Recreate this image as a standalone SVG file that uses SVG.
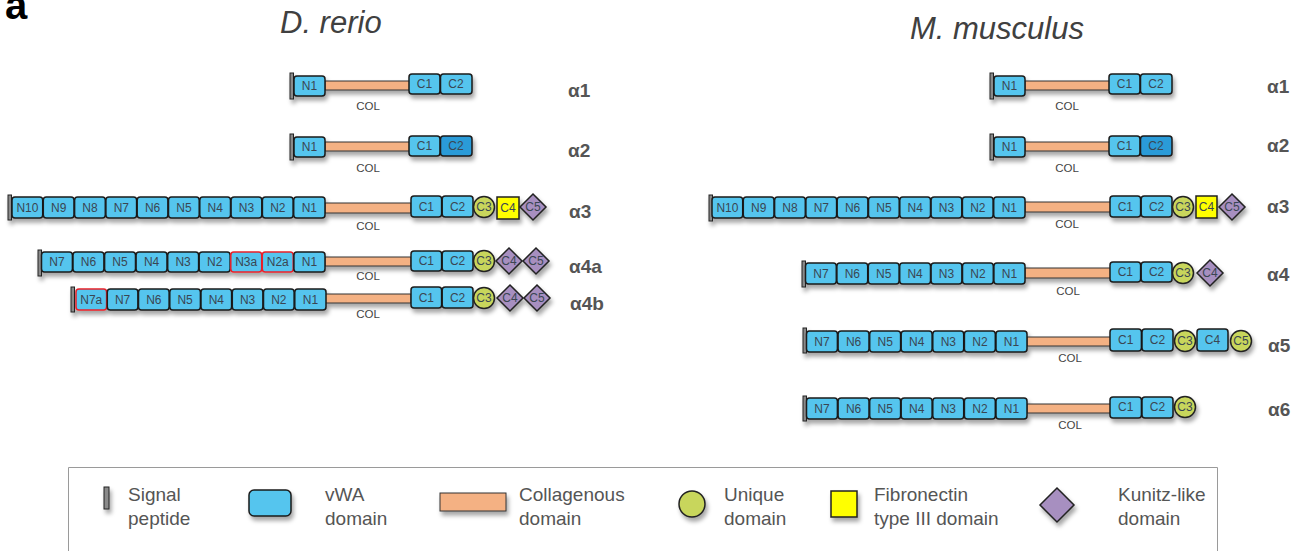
<svg xmlns="http://www.w3.org/2000/svg" width="1302" height="551" viewBox="0 0 1302 551">
<defs>
<filter id="sh" x="-10%" y="-30%" width="120%" height="180%">
<feDropShadow dx="2" dy="4" stdDeviation="2.2" flood-color="#000" flood-opacity="0.35"/>
</filter>
</defs>
<style>
.v{fill:#55C5EE;stroke:#1a1a1a;stroke-width:1.5}
.vd{fill:#2A9BD8}
.vr{stroke:#E8202A}
.col{fill:#F4B183;stroke:#333;stroke-width:1}
.sp{fill:#8a8a8a;stroke:#222;stroke-width:1}
.u{fill:#C8D65C;stroke:#222;stroke-width:1.5}
.fn{fill:#FFFF00;stroke:#222;stroke-width:1.5}
.k{fill:#A78FC0;stroke:#222;stroke-width:1.5}
text{font-family:"Liberation Sans",Arial,sans-serif}
.t{font-size:12px;fill:#3a4652;text-anchor:middle}
.cl{font-size:11.5px;fill:#444;text-anchor:middle}
.al{font-size:19px;font-weight:bold;fill:#555}
.lg{font-size:19px;fill:#555}
.ti{font-size:31px;font-style:italic;fill:#404040}
.row{filter:url(#sh)}
</style>
<rect width="1302" height="551" fill="#fff"/>
<text x="5" y="19" style="font-size:40px;font-weight:bold;fill:#000">a</text>
<text class="ti" x="280" y="33">D. rerio</text>
<text class="ti" x="910" y="39">M. musculus</text>

<!-- D. rerio alpha1 -->
<g id="dr-a1">
<g class="row">
<rect class="sp" x="290" y="73" width="3.5" height="26"/>
<rect class="col" x="325" y="81" width="85" height="9"/>
<rect class="v" x="294" y="76" width="31" height="20" rx="3"/>
<rect class="v" x="409" y="74" width="31" height="20" rx="3"/>
<rect class="v" x="440.5" y="74" width="31.5" height="20" rx="3"/>
</g>
<text class="t" x="309.5" y="90">N1</text><text class="t" x="424.5" y="88">C1</text><text class="t" x="456" y="88">C2</text>
<text class="cl" x="368" y="110">COL</text>
<text class="al" x="568" y="97">α1</text>
</g>

<!-- D. rerio alpha2 -->
<g id="dr-a2">
<g class="row">
<rect class="sp" x="290" y="134" width="3.5" height="26"/>
<rect class="col" x="325" y="142" width="85" height="9"/>
<rect class="v" x="294" y="137" width="31" height="20" rx="3"/>
<rect class="v" x="409" y="136" width="31" height="20" rx="3"/>
<rect class="v vd" x="440.5" y="136" width="31.5" height="20" rx="3"/>
</g>
<text class="t" x="309.5" y="151">N1</text><text class="t" x="424.5" y="150">C1</text><text class="t" x="456" y="150">C2</text>
<text class="cl" x="368" y="172">COL</text>
<text class="al" x="568" y="157">α2</text>
</g>

<!-- D. rerio alpha3 -->
<g id="dr-a3">
<g class="row">
<rect class="sp" x="8" y="195" width="3.5" height="25"/>
<rect class="col" x="325" y="203" width="86" height="10"/>
<rect class="v" x="12" y="197" width="30.7" height="21" rx="3"/>
<rect class="v" x="43.3" y="197" width="30.7" height="21" rx="3"/>
<rect class="v" x="74.6" y="197" width="30.7" height="21" rx="3"/>
<rect class="v" x="105.9" y="197" width="30.7" height="21" rx="3"/>
<rect class="v" x="137.2" y="197" width="30.7" height="21" rx="3"/>
<rect class="v" x="168.5" y="197" width="30.7" height="21" rx="3"/>
<rect class="v" x="199.8" y="197" width="30.7" height="21" rx="3"/>
<rect class="v" x="231.1" y="197" width="30.7" height="21" rx="3"/>
<rect class="v" x="262.4" y="197" width="30.7" height="21" rx="3"/>
<rect class="v" x="293.7" y="197" width="31.3" height="21" rx="3"/>
<rect class="v" x="411" y="196" width="30.6" height="21" rx="3"/>
<rect class="v" x="442.2" y="196" width="30.8" height="21" rx="3"/>
<circle class="u" cx="484" cy="207" r="10.5"/>
<rect class="fn" x="497" y="197" width="22" height="22"/>
<path class="k" d="M533 194 L546 207 L533 220 L520 207 Z"/>
</g>
<text class="t" x="27.4" y="212">N10</text><text class="t" x="58.7" y="212">N9</text><text class="t" x="90" y="212">N8</text><text class="t" x="121.3" y="212">N7</text><text class="t" x="152.6" y="212">N6</text><text class="t" x="183.9" y="212">N5</text><text class="t" x="215.2" y="212">N4</text><text class="t" x="246.5" y="212">N3</text><text class="t" x="277.8" y="212">N2</text><text class="t" x="309.3" y="212">N1</text>
<text class="t" x="426.3" y="211">C1</text><text class="t" x="457.6" y="211">C2</text><text class="t" x="484" y="211">C3</text><text class="t" x="508" y="212">C4</text><text class="t" x="533" y="211">C5</text>
<text class="cl" x="368" y="230">COL</text>
<text class="al" x="569" y="218">α3</text>
</g>

<!-- D. rerio alpha4a -->
<g id="dr-a4a">
<g class="row">
<rect class="sp" x="38" y="250" width="3.5" height="26"/>
<rect class="col" x="325" y="257" width="86" height="9"/>
<rect class="v" x="41.5" y="252" width="30.9" height="20" rx="3"/>
<rect class="v" x="73" y="252" width="30.9" height="20" rx="3"/>
<rect class="v" x="104.6" y="252" width="30.9" height="20" rx="3"/>
<rect class="v" x="136.1" y="252" width="30.9" height="20" rx="3"/>
<rect class="v" x="167.7" y="252" width="30.9" height="20" rx="3"/>
<rect class="v" x="199.2" y="252" width="30.9" height="20" rx="3"/>
<rect class="v vr" x="230.8" y="252" width="30.9" height="20" rx="3"/>
<rect class="v vr" x="262.3" y="252" width="30.9" height="20" rx="3"/>
<rect class="v" x="293.9" y="252" width="31.1" height="20" rx="3"/>
<rect class="v" x="411" y="251" width="30.6" height="20" rx="3"/>
<rect class="v" x="442.2" y="251" width="30.8" height="20" rx="3"/>
<circle class="u" cx="484" cy="261" r="10.5"/>
<path class="k" d="M509 248 L522 261 L509 274 L496 261 Z"/>
<path class="k" d="M536 248 L549 261 L536 274 L523 261 Z"/>
</g>
<text class="t" x="57" y="266">N7</text><text class="t" x="88.5" y="266">N6</text><text class="t" x="120" y="266">N5</text><text class="t" x="151.6" y="266">N4</text><text class="t" x="183.1" y="266">N3</text><text class="t" x="214.7" y="266">N2</text><text class="t" x="246.2" y="266">N3a</text><text class="t" x="277.8" y="266">N2a</text><text class="t" x="309.4" y="266">N1</text>
<text class="t" x="426.3" y="265">C1</text><text class="t" x="457.6" y="265">C2</text><text class="t" x="484" y="265">C3</text><text class="t" x="509" y="265">C4</text><text class="t" x="536" y="265">C5</text>
<text class="cl" x="368" y="280">COL</text>
<text class="al" x="569" y="273">α4a</text>
</g>

<!-- D. rerio alpha4b -->
<g id="dr-a4b">
<g class="row">
<rect class="sp" x="71" y="287" width="3.5" height="25"/>
<rect class="col" x="325" y="294" width="86" height="9"/>
<rect class="v vr" x="76" y="289" width="30.6" height="21" rx="3"/>
<rect class="v" x="107.3" y="289" width="30.6" height="21" rx="3"/>
<rect class="v" x="138.5" y="289" width="30.6" height="21" rx="3"/>
<rect class="v" x="169.8" y="289" width="30.6" height="21" rx="3"/>
<rect class="v" x="201" y="289" width="30.6" height="21" rx="3"/>
<rect class="v" x="232.3" y="289" width="30.6" height="21" rx="3"/>
<rect class="v" x="263.5" y="289" width="30.6" height="21" rx="3"/>
<rect class="v" x="294.8" y="289" width="31.2" height="21" rx="3"/>
<rect class="v" x="411" y="287" width="30.6" height="21" rx="3"/>
<rect class="v" x="442.2" y="287" width="30.8" height="21" rx="3"/>
<circle class="u" cx="484" cy="298" r="10.5"/>
<path class="k" d="M510 285 L523 298 L510 311 L497 298 Z"/>
<path class="k" d="M537 285 L550 298 L537 311 L524 298 Z"/>
</g>
<text class="t" x="91.3" y="304">N7a</text><text class="t" x="122.6" y="304">N7</text><text class="t" x="153.8" y="304">N6</text><text class="t" x="185.1" y="304">N5</text><text class="t" x="216.3" y="304">N4</text><text class="t" x="247.6" y="304">N3</text><text class="t" x="278.8" y="304">N2</text><text class="t" x="310.4" y="304">N1</text>
<text class="t" x="426.3" y="302">C1</text><text class="t" x="457.6" y="302">C2</text><text class="t" x="484" y="302">C3</text><text class="t" x="510" y="302">C4</text><text class="t" x="537" y="302">C5</text>
<text class="cl" x="368" y="318">COL</text>
<text class="al" x="570" y="310">α4b</text>
</g>

<!-- M. musculus alpha1 -->
<g id="mm-a1">
<g class="row">
<rect class="sp" x="990" y="73" width="3.5" height="26"/>
<rect class="col" x="1025" y="81" width="85" height="9"/>
<rect class="v" x="994" y="76" width="31" height="20" rx="3"/>
<rect class="v" x="1109" y="74" width="31" height="20" rx="3"/>
<rect class="v" x="1140.5" y="74" width="31.5" height="20" rx="3"/>
</g>
<text class="t" x="1009.5" y="90">N1</text><text class="t" x="1124.5" y="88">C1</text><text class="t" x="1156" y="88">C2</text>
<text class="cl" x="1067" y="110">COL</text>
<text class="al" x="1267" y="93">α1</text>
</g>

<!-- M. musculus alpha2 -->
<g id="mm-a2">
<g class="row">
<rect class="sp" x="990" y="134" width="3.5" height="26"/>
<rect class="col" x="1025" y="142" width="85" height="9"/>
<rect class="v" x="994" y="137" width="31" height="20" rx="3"/>
<rect class="v" x="1109" y="136" width="31" height="20" rx="3"/>
<rect class="v vd" x="1140.5" y="136" width="31.5" height="20" rx="3"/>
</g>
<text class="t" x="1009.5" y="151">N1</text><text class="t" x="1124.5" y="150">C1</text><text class="t" x="1156" y="150">C2</text>
<text class="cl" x="1067" y="172">COL</text>
<text class="al" x="1267" y="152">α2</text>
</g>

<!-- M. musculus alpha3 -->
<g id="mm-a3">
<g class="row">
<rect class="sp" x="709" y="195" width="3.5" height="26"/>
<rect class="col" x="1025" y="202" width="86" height="10"/>
<rect class="v" x="712" y="197" width="30.7" height="21" rx="3"/>
<rect class="v" x="743.3" y="197" width="30.7" height="21" rx="3"/>
<rect class="v" x="774.6" y="197" width="30.7" height="21" rx="3"/>
<rect class="v" x="805.9" y="197" width="30.7" height="21" rx="3"/>
<rect class="v" x="837.2" y="197" width="30.7" height="21" rx="3"/>
<rect class="v" x="868.5" y="197" width="30.7" height="21" rx="3"/>
<rect class="v" x="899.8" y="197" width="30.7" height="21" rx="3"/>
<rect class="v" x="931.1" y="197" width="30.7" height="21" rx="3"/>
<rect class="v" x="962.4" y="197" width="30.7" height="21" rx="3"/>
<rect class="v" x="993.7" y="197" width="31.3" height="21" rx="3"/>
<rect class="v" x="1110" y="196" width="30.6" height="21" rx="3"/>
<rect class="v" x="1141.2" y="196" width="30.8" height="21" rx="3"/>
<circle class="u" cx="1183" cy="207" r="10.5"/>
<rect class="fn" x="1196" y="196" width="21" height="22"/>
<path class="k" d="M1232 194 L1245 207 L1232 220 L1219 207 Z"/>
</g>
<text class="t" x="727.4" y="212">N10</text><text class="t" x="758.7" y="212">N9</text><text class="t" x="790" y="212">N8</text><text class="t" x="821.3" y="212">N7</text><text class="t" x="852.6" y="212">N6</text><text class="t" x="883.9" y="212">N5</text><text class="t" x="915.2" y="212">N4</text><text class="t" x="946.5" y="212">N3</text><text class="t" x="977.8" y="212">N2</text><text class="t" x="1009.3" y="212">N1</text>
<text class="t" x="1125.3" y="211">C1</text><text class="t" x="1156.6" y="211">C2</text><text class="t" x="1183" y="211">C3</text><text class="t" x="1206.5" y="211">C4</text><text class="t" x="1232" y="211">C5</text>
<text class="cl" x="1067" y="228">COL</text>
<text class="al" x="1267" y="213">α3</text>
</g>

<!-- M. musculus alpha4 -->
<g id="mm-a4">
<g class="row">
<rect class="sp" x="802" y="261" width="3.5" height="26"/>
<rect class="col" x="1025" y="268" width="86" height="10"/>
<rect class="v" x="805.5" y="263" width="30.8" height="21" rx="3"/>
<rect class="v" x="836.9" y="263" width="30.8" height="21" rx="3"/>
<rect class="v" x="868.3" y="263" width="30.8" height="21" rx="3"/>
<rect class="v" x="899.7" y="263" width="30.8" height="21" rx="3"/>
<rect class="v" x="931.1" y="263" width="30.8" height="21" rx="3"/>
<rect class="v" x="962.5" y="263" width="30.8" height="21" rx="3"/>
<rect class="v" x="993.9" y="263" width="31.1" height="21" rx="3"/>
<rect class="v" x="1110" y="262" width="30.6" height="20" rx="3"/>
<rect class="v" x="1141.2" y="262" width="30.8" height="20" rx="3"/>
<circle class="u" cx="1183" cy="273" r="10.5"/>
<path class="k" d="M1210 260 L1223 273 L1210 286 L1197 273 Z"/>
</g>
<text class="t" x="821" y="278">N7</text><text class="t" x="852.3" y="278">N6</text><text class="t" x="883.7" y="278">N5</text><text class="t" x="915.1" y="278">N4</text><text class="t" x="946.5" y="278">N3</text><text class="t" x="977.9" y="278">N2</text><text class="t" x="1009.4" y="278">N1</text>
<text class="t" x="1125.3" y="276">C1</text><text class="t" x="1156.6" y="276">C2</text><text class="t" x="1183" y="277">C3</text><text class="t" x="1210" y="277">C4</text>
<text class="cl" x="1068" y="295">COL</text>
<text class="al" x="1267" y="281">α4</text>
</g>

<!-- M. musculus alpha5 -->
<g id="mm-a5">
<g class="row">
<rect class="sp" x="803" y="328" width="3.5" height="25"/>
<rect class="col" x="1027" y="337" width="84" height="9"/>
<rect class="v" x="806.5" y="331" width="30.9" height="21" rx="3"/>
<rect class="v" x="838.1" y="331" width="30.9" height="21" rx="3"/>
<rect class="v" x="869.7" y="331" width="30.9" height="21" rx="3"/>
<rect class="v" x="901.2" y="331" width="30.9" height="21" rx="3"/>
<rect class="v" x="932.8" y="331" width="30.9" height="21" rx="3"/>
<rect class="v" x="964.4" y="331" width="30.9" height="21" rx="3"/>
<rect class="v" x="996" y="331" width="31" height="21" rx="3"/>
<rect class="v" x="1110" y="329" width="31.4" height="22" rx="3"/>
<rect class="v" x="1142" y="329" width="31" height="22" rx="3"/>
<circle class="u" cx="1185" cy="341" r="10.5"/>
<rect class="v" x="1197" y="329" width="31" height="22" rx="3"/>
<circle class="u" cx="1241" cy="341" r="10.5"/>
</g>
<text class="t" x="822" y="346">N7</text><text class="t" x="853.6" y="346">N6</text><text class="t" x="885.2" y="346">N5</text><text class="t" x="916.7" y="346">N4</text><text class="t" x="948.3" y="346">N3</text><text class="t" x="979.9" y="346">N2</text><text class="t" x="1011.5" y="346">N1</text>
<text class="t" x="1125.7" y="344">C1</text><text class="t" x="1157.5" y="344">C2</text><text class="t" x="1185" y="345">C3</text><text class="t" x="1212.5" y="344">C4</text><text class="t" x="1241" y="345">C5</text>
<text class="cl" x="1070" y="362">COL</text>
<text class="al" x="1268" y="352">α5</text>
</g>

<!-- M. musculus alpha6 -->
<g id="mm-a6">
<g class="row">
<rect class="sp" x="803" y="396" width="3.5" height="25"/>
<rect class="col" x="1027" y="404" width="84" height="9"/>
<rect class="v" x="806.5" y="398" width="30.9" height="21" rx="3"/>
<rect class="v" x="838.1" y="398" width="30.9" height="21" rx="3"/>
<rect class="v" x="869.7" y="398" width="30.9" height="21" rx="3"/>
<rect class="v" x="901.2" y="398" width="30.9" height="21" rx="3"/>
<rect class="v" x="932.8" y="398" width="30.9" height="21" rx="3"/>
<rect class="v" x="964.4" y="398" width="30.9" height="21" rx="3"/>
<rect class="v" x="996" y="398" width="31" height="21" rx="3"/>
<rect class="v" x="1110" y="397" width="31.4" height="21" rx="3"/>
<rect class="v" x="1142" y="397" width="31" height="21" rx="3"/>
<circle class="u" cx="1185" cy="407" r="10.5"/>
</g>
<text class="t" x="822" y="413">N7</text><text class="t" x="853.6" y="413">N6</text><text class="t" x="885.2" y="413">N5</text><text class="t" x="916.7" y="413">N4</text><text class="t" x="948.3" y="413">N3</text><text class="t" x="979.9" y="413">N2</text><text class="t" x="1011.5" y="413">N1</text>
<text class="t" x="1125.7" y="411">C1</text><text class="t" x="1157.5" y="411">C2</text><text class="t" x="1185" y="411">C3</text>
<text class="cl" x="1070" y="429">COL</text>
<text class="al" x="1268" y="416">α6</text>
</g>

<!-- Legend -->
<g id="legend">
<path d="M68.5 551 V467.5 H1217.5 V551" fill="none" stroke="#9a9a9a" stroke-width="1"/>
<g class="row">
<rect class="sp" x="104" y="487" width="5" height="22"/>
<rect class="v" x="249" y="490" width="42" height="26" rx="5"/>
<rect class="col" x="440" y="493" width="66" height="18"/>
<circle class="u" cx="692" cy="504" r="13"/>
<rect class="fn" x="831" y="491" width="26" height="26"/>
<path class="k" d="M1057 488 L1074 505 L1057 522 L1040 505 Z"/>
</g>
<text class="lg" x="128" y="501">Signal</text><text class="lg" x="128" y="525">peptide</text>
<text class="lg" x="325" y="501">vWA</text><text class="lg" x="325" y="525">domain</text>
<text class="lg" x="519" y="501">Collagenous</text><text class="lg" x="519" y="525">domain</text>
<text class="lg" x="724" y="501">Unique</text><text class="lg" x="724" y="525">domain</text>
<text class="lg" x="874" y="501">Fibronectin</text><text class="lg" x="874" y="525">type III domain</text>
<text class="lg" x="1118" y="501">Kunitz-like</text><text class="lg" x="1118" y="525">domain</text>
</g>
</svg>
